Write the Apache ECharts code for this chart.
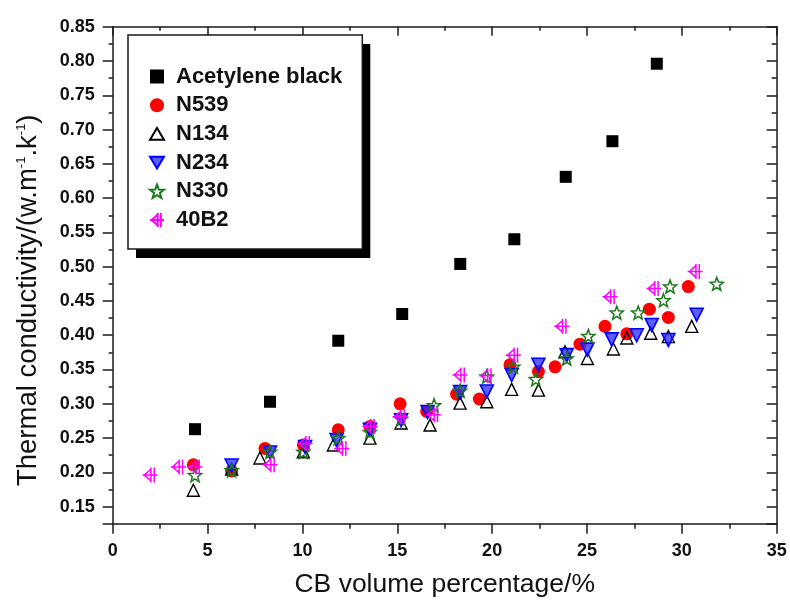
<!DOCTYPE html>
<html><head><meta charset="utf-8">
<script src="https://cdn.jsdelivr.net/npm/echarts@6/dist/echarts.min.js"></script>
<style>html,body{margin:0;padding:0;background:#fff}#c{width:790px;height:600px}</style>
</head><body><div id="c"></div>
<script>
// ---- data ----
const seriesNames = ['Acetylene black', 'N539', 'N134', 'N234', 'N330', '40B2'];
const acetyleneBlack = [[4.34,0.263],[8.29,0.303],[11.89,0.392],[15.26,0.431],[18.32,0.504],[21.17,0.540],[23.88,0.631],[26.34,0.683],[28.68,0.796]];
const n539 = [[4.25,0.211],[6.27,0.202],[8.03,0.235],[10.05,0.240],[11.89,0.262],[13.56,0.267],[15.15,0.300],[16.55,0.289],[18.13,0.314],[19.33,0.307],[20.94,0.357],[22.44,0.347],[23.32,0.354],[24.63,0.387],[25.95,0.413],[27.1,0.402],[28.29,0.438],[29.29,0.426],[30.34,0.471]];
const n134 = [[4.25,0.174],[6.27,0.205],[7.76,0.221],[10.05,0.230],[11.63,0.240],[13.56,0.250],[15.2,0.272],[16.73,0.269],[18.31,0.301],[19.72,0.303],[21.03,0.321],[22.44,0.320],[23.84,0.376],[25.02,0.366],[26.39,0.380],[27.1,0.396],[28.36,0.403],[29.29,0.398],[30.52,0.413]];
const n234 = [[6.27,0.210],[8.29,0.229],[10.14,0.237],[11.8,0.247],[13.56,0.262],[15.2,0.276],[16.6,0.288],[18.31,0.317],[19.72,0.318],[21.03,0.342],[22.44,0.357],[23.93,0.371],[25.02,0.379],[26.3,0.394],[27.62,0.400],[28.41,0.415],[29.29,0.393],[30.78,0.430]];
const n330 = [[4.34,0.196],[6.27,0.203],[8.29,0.230],[10.05,0.230],[11.89,0.250],[13.56,0.259],[15.2,0.278],[16.94,0.298],[18.31,0.319],[19.72,0.340],[21.12,0.354],[22.3,0.336],[23.93,0.366],[25.07,0.399],[26.57,0.433],[27.7,0.433],[29.03,0.451],[29.38,0.471],[31.84,0.475]];
const b40b2 = [[1.97,0.196],[3.46,0.208],[4.34,0.208],[8.29,0.211],[10.14,0.242],[12.07,0.235],[13.56,0.267],[15.15,0.281],[16.9,0.284],[18.31,0.342],[19.72,0.341],[21.12,0.371],[23.67,0.413],[26.21,0.456],[28.53,0.468],[30.7,0.493]];
const xMin = 0, xMax = 35, xMajor = 5, xMinor = 2.5;
const yMin = 0.125, yMax = 0.85, yMajor = 0.05, yMinor = 0.025;
const xTitle = 'CB volume percentage/%';
const yTitle = 'Thermal conductivity/(w.m{sup|-1}.k{sup|-1})';

// ---- symbols ----
const starPath = 'path://M10 0 L12.47 6.6 L19.51 6.91 L13.99 11.3 L15.88 18.09 L10 14.2 L4.12 18.09 L6.01 11.3 L0.49 6.91 L7.53 6.6 Z';
const downTri = 'path://M0 0 L20 0 L10 17 Z';
const upTri = 'path://M10 0 L20 17 L0 17 Z';
const squarePath = 'path://M0 0 L20 0 L20 20 L0 20 Z';
const crossPath = 'path://M1 10 L19 10 M11 1 L11 19 M15 1 L15 19 M3 10 L11 3 M3 10 L11 17';

const FONT = 'Liberation Sans, Arial, sans-serif';
const AX = '#1a1a1a';
const chart = echarts.init(document.getElementById('c'), null, {renderer: 'canvas'});

function isMul(v, step) { const q = v / step; return Math.abs(q - Math.round(q)) < 1e-6; }

const common = {type: 'value', splitLine: {show: false}};
const legendBase = {
  orient: 'vertical',
  padding: [30.5, 20, 18, 21], itemGap: 6.7, itemWidth: 14, itemHeight: 14,
  data: seriesNames
};
const option = {
  animation: false,
  backgroundColor: '#fff',
  grid: {left: 112.7, right: 13.3, top: 26.7, bottom: 76.2, containLabel: false, outerBoundsMode: 'none'},
  legend: [
    Object.assign({}, legendBase, {left: 136, top: 44, z: 3, backgroundColor: '#000', borderWidth: 0,
      selectedMode: false,
      itemStyle: {opacity: 0},
      textStyle: {fontFamily: FONT, fontWeight: 'bold', fontSize: 22, color: 'rgba(0,0,0,0)', padding: [0, 0, 0, 7]}}),
    Object.assign({}, legendBase, {left: 128, top: 35, z: 6, backgroundColor: '#fff', borderColor: AX, borderWidth: 1.5,
      textStyle: {fontFamily: FONT, fontWeight: 'bold', fontSize: 22, color: '#111', padding: [0, 0, 0, 7]}})
  ],
  xAxis: [
    Object.assign({}, common, {min: xMin, max: xMax, interval: xMinor, position: 'bottom',
      axisLine: {show: true, onZero: false, lineStyle: {color: AX, width: 1.5}},
      axisTick: {show: true, inside: false, length: 5, lineStyle: {color: AX, width: 1.5}},
      axisLabel: {show: true, margin: 18, fontFamily: FONT, fontWeight: 'bold', fontSize: 18, color: '#111',
        formatter: v => isMul(v, xMajor) ? String(v) : ''},
      name: xTitle, nameLocation: 'middle', nameGap: 47,
      nameTextStyle: {fontFamily: FONT, fontSize: 26.5, color: '#111'}}),
    Object.assign({}, common, {min: xMin, max: xMax, interval: xMajor, position: 'bottom',
      axisLine: {show: false, onZero: false}, axisTick: {show: true, inside: false, length: 10, lineStyle: {color: AX, width: 1.5}},
      axisLabel: {show: false}}),
    Object.assign({}, common, {min: xMin, max: xMax, interval: xMinor, position: 'top',
      axisLine: {show: true, onZero: false, lineStyle: {color: AX, width: 1.5}},
      axisTick: {show: true, inside: true, length: 4, lineStyle: {color: AX, width: 1.5}},
      axisLabel: {show: false}}),
    Object.assign({}, common, {min: xMin, max: xMax, interval: xMajor, position: 'top',
      axisLine: {show: false, onZero: false}, axisTick: {show: true, inside: true, length: 9, lineStyle: {color: AX, width: 1.5}},
      axisLabel: {show: false}})
  ],
  yAxis: [
    Object.assign({}, common, {min: yMin, max: yMax, interval: yMinor, position: 'left',
      axisLine: {show: true, onZero: false, lineStyle: {color: AX, width: 1.5}},
      axisTick: {show: true, inside: false, length: 4, lineStyle: {color: AX, width: 1.5}},
      axisLabel: {show: false},
      name: yTitle, nameLocation: 'middle', nameGap: 70, nameRotate: 90,
      nameTextStyle: {fontFamily: FONT, fontSize: 27.5, color: '#111', padding: [0, 50, 0, 0],
        rich: {sup: {fontFamily: FONT, fontSize: 13, color: '#111', verticalAlign: 'top', lineHeight: 27}}}}),
    Object.assign({}, common, {min: 0, max: yMax - yMin, interval: yMajor, inverse: true, position: 'left',
      axisLine: {show: false, onZero: false}, axisTick: {show: true, inside: false, length: 10, lineStyle: {color: AX, width: 1.5}},
      axisLabel: {show: true, margin: 18, fontFamily: FONT, fontWeight: 'bold', fontSize: 18, color: '#111',
        formatter: v => { const t = yMax - v; return isMul(t, yMajor) ? (Math.round(t * 100) / 100).toFixed(2) : ''; }}}),
    Object.assign({}, common, {min: yMin, max: yMax, interval: yMinor, position: 'right',
      axisLine: {show: true, onZero: false, lineStyle: {color: AX, width: 1.5}},
      axisTick: {show: true, inside: true, length: 5, lineStyle: {color: AX, width: 1.5}},
      axisLabel: {show: false}}),
    Object.assign({}, common, {min: 0, max: yMax - yMin, interval: yMajor, inverse: true, position: 'right',
      axisLine: {show: false, onZero: false}, axisTick: {show: true, inside: true, length: 10, lineStyle: {color: AX, width: 1.5}},
      axisLabel: {show: false}})
  ],
  series: [
    {name: seriesNames[0], type: 'scatter', data: acetyleneBlack, symbol: squarePath, symbolSize: 12,
      itemStyle: {color: '#000', opacity: 1}},
    {name: seriesNames[1], type: 'scatter', data: n539, symbol: 'circle', symbolSize: 13,
      itemStyle: {color: '#ff0000', opacity: 1}},
    {name: seriesNames[2], type: 'scatter', data: n134, symbol: upTri, symbolSize: 12,
      itemStyle: {color: 'rgba(255,255,255,0)', borderColor: '#000', borderWidth: 1.4, opacity: 1}},
    {name: seriesNames[3], type: 'scatter', data: n234, symbol: downTri, symbolSize: 13,
      itemStyle: {color: 'rgba(40,40,255,0.75)', borderColor: '#0000ff', borderWidth: 1.6, opacity: 1}},
    {name: seriesNames[4], type: 'scatter', data: n330, symbol: starPath, symbolSize: 13,
      itemStyle: {color: 'rgba(255,255,255,0)', borderColor: '#1a7a1a', borderWidth: 1.5, opacity: 1}},
    {name: seriesNames[5], type: 'scatter', data: b40b2, symbol: crossPath, symbolSize: 15,
      itemStyle: {color: 'rgba(255,255,255,0)', borderColor: '#ff00ff', borderWidth: 1.5, opacity: 1}}
  ]
};
chart.setOption(option);
</script></body></html>
